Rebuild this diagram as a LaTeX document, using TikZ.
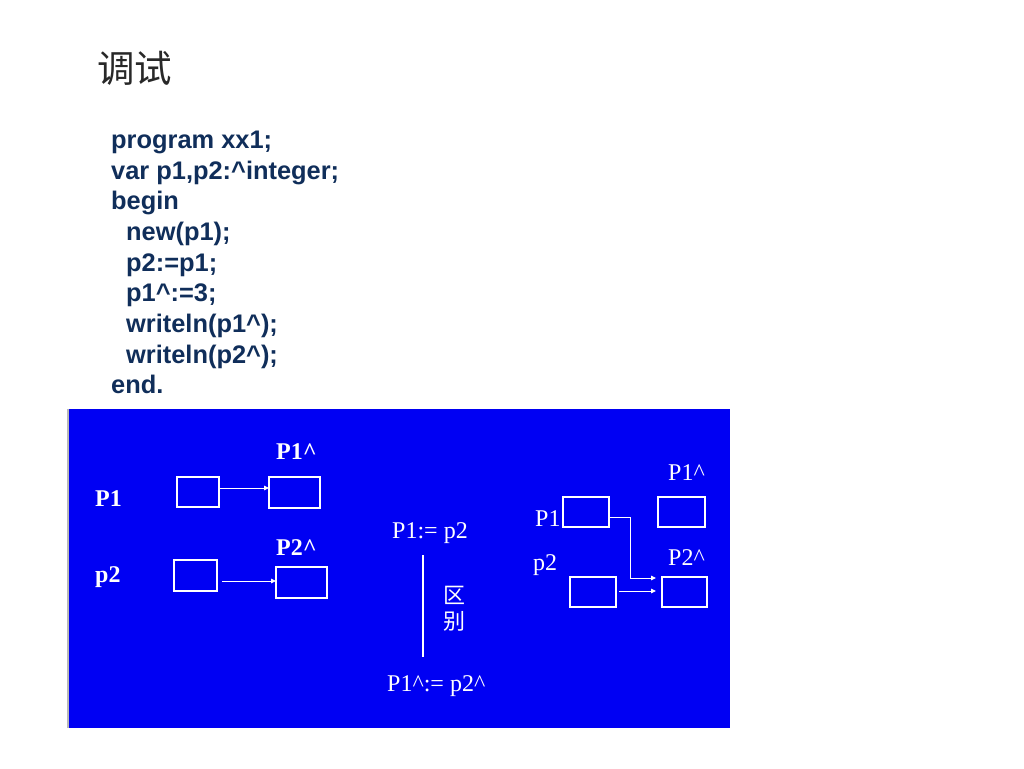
\documentclass[tikz,border=0pt]{standalone}
\usepackage{fontspec}
\setmainfont{Liberation Serif}
\newfontfamily\codefont{Liberation Sans}
\newfontfamily\cjkfont{Noto Sans CJK SC}
\usetikzlibrary{arrows.meta}
\definecolor{panelblue}{RGB}{0,0,243}
\definecolor{codeblue}{RGB}{16,46,90}
\definecolor{titlegray}{RGB}{40,40,40}
\begin{document}
\begin{tikzpicture}[x=1pt,y=-1pt,
  codeline/.style={anchor=base west, inner sep=0, text=codeblue, font=\codefont\bfseries\fontsize{25.4}{30}\selectfont},
  boldlab/.style={anchor=base west, inner sep=0, text=white, font=\bfseries\fontsize{24}{28}\selectfont},
  reglab/.style={anchor=base west, inner sep=0, text=white, font=\fontsize{24}{28}\selectfont},
  cjklab/.style={anchor=west, inner sep=0, text=white, font=\cjkfont\fontsize{22}{24}\selectfont},
  wbox/.style={draw=white, line width=1.4pt, inner sep=0, outer sep=0},
  warrow/.style={draw=white, line width=0.9pt, -{Triangle[length=5pt,width=4.5pt]}}
]
\useasboundingbox (0,0) rectangle (1024,768);
\fill[white] (0,0) rectangle (1024,768);

% title
\node[anchor=west, inner sep=0, text=titlegray, font=\cjkfont\fontsize{37.5}{38}\selectfont] (title) at (97,68) {调试};

% code
\node[codeline] (c1) at (111,148) {program xx1;};
\node[codeline] (c2) at (111,179) {var p1,p2:\string^integer;};
\node[codeline] (c3) at (111,209) {begin};
\node[codeline] (c4) at (126,240) {new(p1);};
\node[codeline] (c5) at (126,271) {p2:=p1;};
\node[codeline] (c6) at (126,301) {p1\string^:=3;};
\node[codeline] (c7) at (126,332) {writeln(p1\string^);};
\node[codeline] (c8) at (126,363) {writeln(p2\string^);};
\node[codeline] (c9) at (111,393) {end.};

% panel
\fill[panelblue] (68,409) rectangle (730,728);
\draw[gray!55, line width=1.5pt] (68,409) -- (68,728);

% left diagram
\node[boldlab] (lp1h) at (276,459) {P1\string^};
\node[boldlab] (lp1) at (95,506) {P1};
\node[boldlab] (lp2h) at (276,555) {P2\string^};
\node[boldlab] (lp2) at (95,582) {p2};
\node[wbox, minimum width=42, minimum height=30] (a1) at (198,492) {};
\node[wbox, minimum width=51, minimum height=31] (a2) at (294.5,492.5) {};
\node[wbox, minimum width=43, minimum height=31] (a3) at (195.5,575.5) {};
\node[wbox, minimum width=51, minimum height=31] (a4) at (301.5,582.5) {};
\draw[warrow] ([yshift=4pt]a1.east) -- ([yshift=4pt]a1.east -| a2.west);
\draw[warrow] ([xshift=5pt,yshift=1.5pt]a4.west -| a3.east) -- ([yshift=1.5pt]a4.west);

% middle
\node[reglab] (m1) at (392,538) {P1:= p2};
\coordinate (vtop) at (423,555);
\coordinate (vbot) at (423,657);
\draw[white, line width=1.2pt] (vtop) -- (vbot);
\node[cjklab] (qu) at (443,595) {区};
\node[cjklab] (bie) at (443,621) {别};
\node[reglab] (m2) at (387,691) {P1\string^:= p2\string^};

% right diagram
\node[reglab] (rp1h) at (668,480) {P1\string^};
\node[reglab] (rp1) at (535,526) {P1};
\node[reglab] (rp2h) at (668,565) {P2\string^};
\node[reglab] (rp2) at (533,570) {p2};
\node[wbox, minimum width=46, minimum height=30] (b1) at (586,512) {};
\node[wbox, minimum width=47, minimum height=30] (b2) at (681.5,512) {};
\node[wbox, minimum width=46, minimum height=30] (b3) at (593,592) {};
\node[wbox, minimum width=45, minimum height=30] (b4) at (684.5,592) {};
\coordinate (k1) at (630,517);
\coordinate (k2) at (630,578);
\draw[warrow] ([yshift=-5pt]b1.east) -- (k1) -- (k2) -- ([xshift=-6pt,yshift=14pt]b4.west);
\draw[warrow] ([xshift=3pt,yshift=1pt]b3.east) -- ([xshift=-6pt,yshift=1pt]b4.west);
\end{tikzpicture}
\end{document}
